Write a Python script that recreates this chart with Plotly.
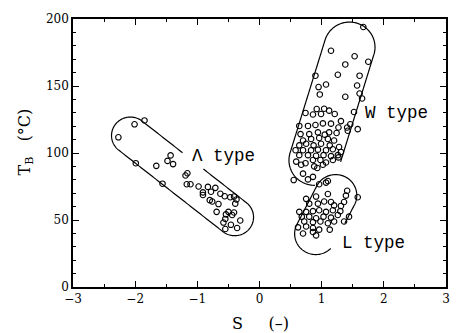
import math
import plotly.graph_objects as go

# ---------------- data ----------------
lambda_s = [-2.27, -2.01, -1.85, -1.99, -1.66, -1.56, -1.48, -1.43, -1.39, -1.19,
            -1.16, -1.17, -1.11, -0.98, -0.91, -0.83, -0.78, -0.71, -0.91, -0.80,
            -0.76, -0.66, -0.63, -0.56, -0.47, -0.41, -0.37, -0.39, -0.41, -0.50,
            -0.54, -0.69, -0.55, -0.58, -0.44, -0.31, -0.46, -0.36, -0.55]
lambda_t = [111.7, 121.4, 124.3, 92.4, 90.4, 77.1, 94.1, 98.2, 91.7, 83.2,
            84.9, 76.7, 76.7, 75.0, 70.6, 74.7, 71.1, 74.0, 68.7, 64.8,
            63.8, 61.9, 69.6, 67.7, 67.0, 67.5, 65.3, 62.2, 55.6, 56.1,
            54.2, 56.1, 50.8, 48.1, 53.7, 49.6, 46.4, 44.0, 43.3]

w_s = [1.67, 1.15, 1.53, 1.75, 1.38, 1.26, 0.90, 1.61, 1.07, 0.95,
       1.57, 0.97, 1.61, 1.38, 1.65, 1.52, 1.46, 1.42, 1.58,
       0.74, 0.86, 0.92, 1.04, 1.12, 1.21, 0.99,
       0.64, 0.78, 0.90, 1.02, 1.15, 1.27, 1.31, 1.41,
       0.66, 0.80, 0.94, 1.05, 1.12, 1.24,
       0.70, 0.83, 0.96, 1.10, 1.20,
       0.64, 0.75, 0.87, 0.99, 1.13, 1.28,
       0.58, 0.70, 0.83, 0.94, 1.07, 1.18, 1.31,
       0.64, 0.78, 0.91, 1.03, 1.15, 1.26,
       0.59, 0.74, 0.86, 0.98, 1.07, 1.18, 1.27,
       0.67, 0.88, 1.02, 0.93,
       0.70, 0.78, 0.86, 0.55]
w_t = [194.0, 176.3, 172.2, 168.1, 166.1, 158.4, 157.7, 157.7, 151.1, 149.2,
       150.4, 143.7, 144.4, 142.0, 140.7, 130.6, 121.4, 116.6, 117.8,
       129.9, 128.7, 132.8, 133.0, 131.6, 129.1, 129.1,
       120.2, 120.2, 120.9, 122.1, 121.9, 119.0, 123.8, 119.0,
       114.1, 114.1, 115.4, 113.7, 115.4, 114.9,
       109.3, 110.5, 111.2, 110.5, 109.3,
       105.7, 106.9, 105.7, 106.9, 105.7, 104.5,
       102.1, 102.1, 102.1, 102.5, 102.1, 102.8, 100.8,
       98.4, 98.4, 97.9, 98.4, 97.7, 98.4,
       93.6, 92.4, 94.8, 94.8, 92.9, 94.8, 96.7,
       91.2, 90.0, 91.2, 88.8,
       84.6, 80.3, 82.2, 79.8]

l_s = [1.07, 0.96, 1.10, 1.41, 1.39, 1.36, 1.58, 0.91, 1.10,
       0.80, 0.94, 1.04, 1.15, 1.20, 1.31, 0.75,
       0.64, 0.75, 0.86, 0.96, 1.07, 1.18, 1.30,
       0.68, 0.80, 0.91, 1.03, 1.15, 1.26, 1.44,
       0.72, 0.86, 0.98, 1.10, 1.20, 1.36,
       0.62, 0.75, 0.86, 0.96, 1.13,
       0.70, 0.86, 0.91]
l_t = [77.9, 76.7, 79.1, 71.8, 68.2, 63.4, 67.0, 67.5, 69.4,
       62.2, 62.2, 63.8, 63.4, 60.9, 60.5, 65.8,
       56.1, 56.1, 56.6, 57.3, 56.1, 57.3, 56.6,
       52.5, 52.5, 51.3, 52.5, 51.8, 53.7, 52.5,
       48.9, 48.4, 48.9, 47.6, 48.9, 48.9,
       44.5, 45.2, 44.0, 42.8, 42.8,
       39.9, 41.1, 38.5]

x_ticks = [-3, -2, -1, 0, 1, 2, 3]
y_ticks = [0, 50, 100, 150, 200]

group_labels = ["\u039b type", "W type", "L type"]

# ---------------- layout geometry ----------------
W_FIG, H_FIG = 462, 333
ML, MR, MT, MB = 73, 13, 12, 46
XMIN, XMAX, YMIN, YMAX = -3, 3, 0, 200
SX = (W_FIG - ML - MR) / (XMAX - XMIN)
SY = (H_FIG - MT - MB) / (YMAX - YMIN)

# capsule outlines: end centres (data), radius (px), gap ends (data)
capsules = [
    dict(c1=(-2.077, 113.0), c2=(-0.399, 52.1), r=19.0, gap=((-1.219, 102.1), (-0.900, 87.5))),
    dict(c1=(1.448, 179.0), c2=(0.884, 94.6), r=25.7, gap=((0.884, 76.2), (1.310, 93.6))),
    dict(c1=(1.225, 68.4), c2=(0.905, 39.7), r=21.3, gap=((1.177, 27.6), (1.416, 46.4))),
]


def to_px(p):
    return ((p[0] - XMIN) * SX, (p[1] - YMIN) * SY)


def to_data(q):
    return (q[0] / SX + XMIN, q[1] / SY + YMIN)


def stadium_path(c1, c2, r, gap):
    p1, p2 = to_px(c1), to_px(c2)
    ang = math.atan2(p2[1] - p1[1], p2[0] - p1[0])
    pts = []
    n_arc = 80
    for i in range(n_arc + 1):
        a = ang - math.pi / 2 + math.pi * i / n_arc
        pts.append((p2[0] + r * math.cos(a), p2[1] + r * math.sin(a)))
    s0, s1 = pts[-1], (p1[0] + r * math.cos(ang + math.pi / 2), p1[1] + r * math.sin(ang + math.pi / 2))
    for i in range(1, 80):
        t = i / 80
        pts.append((s0[0] + (s1[0] - s0[0]) * t, s0[1] + (s1[1] - s0[1]) * t))
    for i in range(n_arc + 1):
        a = ang + math.pi / 2 + math.pi * i / n_arc
        pts.append((p1[0] + r * math.cos(a), p1[1] + r * math.sin(a)))
    s0, s1 = pts[-1], pts[0]
    for i in range(1, 80):
        t = i / 80
        pts.append((s0[0] + (s1[0] - s0[0]) * t, s0[1] + (s1[1] - s0[1]) * t))
    N = len(pts)

    def nearest(d):
        q = to_px(d)
        return min(range(N), key=lambda k: (pts[k][0] - q[0]) ** 2 + (pts[k][1] - q[1]) ** 2)

    i1, i2 = nearest(gap[0]), nearest(gap[1])
    fwd = (i2 - i1) % N
    if fwd <= N / 2:
        start, length = i2, N - fwd
    else:
        start, length = i1, fwd
    seq = [pts[(start + k) % N] for k in range(length + 1)]
    dpts = [to_data(q) for q in seq]
    return "M " + " L ".join(f"{x:.4f},{y:.4f}" for x, y in dpts)


fig = go.Figure()
marker = dict(symbol="circle-open", size=5.5, color="black", line=dict(width=1.1, color="black"))
for xs, ys in [(lambda_s, lambda_t), (w_s, w_t), (l_s, l_t)]:
    fig.add_trace(go.Scatter(x=xs, y=ys, mode="markers", marker=marker,
                             showlegend=False, hoverinfo="skip"))

shapes = [dict(type="path", xref="x", yref="y", path=stadium_path(**c),
               line=dict(color="black", width=1.2)) for c in capsules]

label_pos = [(-1.12, 97.5), (1.66, 130.0), (1.29, 32.6)]
annotations = []
for txt, (x, y) in zip(group_labels, label_pos):
    annotations.append(dict(x=x, y=y, xref="x", yref="y", text=txt, showarrow=False,
                            xanchor="left", yanchor="middle",
                            font=dict(family="Liberation Mono", size=17.5, color="black")))
annotations.append(dict(x=0.503, y=-0.137, xref="paper", yref="paper",
                        text="S\u00a0\u00a0\u00a0\u00a0\u00a0(\u2013)", showarrow=False,
                        xanchor="center", yanchor="middle",
                        font=dict(family="DejaVu Serif", size=16, color="black")))
annotations.append(dict(x=-0.128, y=0.54, xref="paper", yref="paper",
                        text="T<sub>B</sub>\u00a0\u00a0\u00a0(\u00b0C)", showarrow=False,
                        textangle=-90, xanchor="center", yanchor="middle",
                        font=dict(family="DejaVu Serif", size=16, color="black")))

axis_common = dict(showline=True, linecolor="black", linewidth=1.5, mirror="ticks",
                   ticks="inside", ticklen=6, tickwidth=1, tickcolor="black",
                   showgrid=False, zeroline=False,
                   tickfont=dict(family="DejaVu Serif", size=12, color="black"))

fig.update_layout(
    width=W_FIG, height=H_FIG,
    margin=dict(l=ML, r=MR, t=MT, b=MB),
    paper_bgcolor="white", plot_bgcolor="white",
    shapes=shapes, annotations=annotations,
    xaxis=dict(range=[XMIN, XMAX], tickvals=x_ticks,
               minor=dict(dtick=0.5, ticks="inside", ticklen=3, tickcolor="black"),
               **axis_common),
    yaxis=dict(range=[YMIN, YMAX], tickvals=y_ticks,
               minor=dict(dtick=10, ticks="inside", ticklen=3, tickcolor="black"),
               **axis_common),
)

fig.write_html("out.html", config={"displayModeBar": False},
               post_script="document.body.style.margin='0px';document.body.style.overflow='hidden';")
